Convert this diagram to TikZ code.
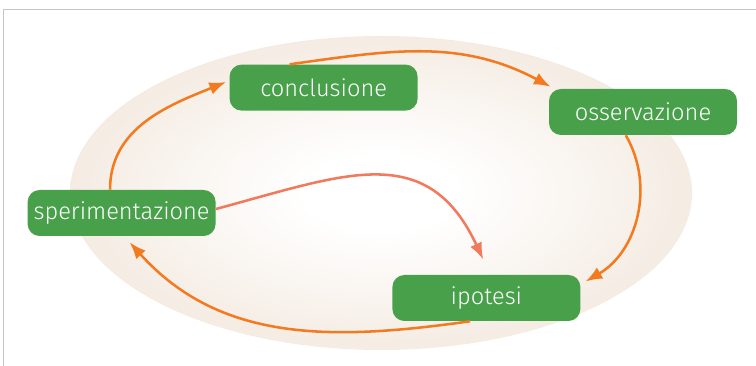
\documentclass[tikz,border=0pt]{standalone}
\usepackage{fontspec}
\newfontfamily\boxfont{Fira Sans Light}
\usepackage{tikz}
\usetikzlibrary{calc,arrows.meta}
\definecolor{boxgreen}{HTML}{48A14A}
\definecolor{arrorange}{HTML}{F47A20}
\definecolor{arrsalmon}{HTML}{F27A5C}
\definecolor{eggshell}{HTML}{EFE2D4}
\definecolor{framegray}{HTML}{C6C6C6}
\pgfdeclareradialshading{egg}{\pgfpoint{0bp}{0bp}}{color(0bp)=(white); color(6bp)=(white);
    color(22bp)=(eggshell!55!white); color(34bp)=(eggshell); color(50bp)=(eggshell)}
\tikzstyle{every picture}=[>={Latex[length=0.42cm,width=0.32cm]}]
\tikzstyle{step box}=[fill=boxgreen, rounded corners=0.3cm, minimum width=4.7cm,
    minimum height=1.15cm, text=white, font=\boxfont\fontsize{16.8}{20}\selectfont]
\tikzstyle{cycle arrow}=[->, draw=arrorange, line width=1.8pt]

\begin{document}
\begin{tikzpicture}
\useasboundingbox (0,0) rectangle (18.9,9.15);
% frame, only top and left show
\draw[framegray, line width=1.2pt] (0.09,0) -- (0.09,8.91) -- (18.9,8.91);
% Now the shaded egg behind everything
\shade[shading=egg] (9.525,4.325) ellipse (7.775cm and 3.925cm);

 \node[step box] (conc) at (8.09,6.96) {conclusione};
 \node[step box] (oss) at (16.075,6.35) {osservazione};
 \node[step box] (sper) at (3.04,3.825) {sperimentazione};
 \node[step box] (ipo) at (12.16,1.70) {ipotesi};

 \draw[cycle arrow] ([xshift=-0.29cm]sper.north) to[out=90,in=202] ([xshift=-0.08cm,yshift=0.14cm]conc.west);
 \draw[cycle arrow] ([xshift=-0.85cm]conc.north) to[out=8,in=152] ([xshift=0.05cm,yshift=0.05cm]oss.north west);
 \draw[cycle arrow] ([xshift=-0.43cm]oss.south) to[out=-60,in=30] ([xshift=0.12cm,yshift=-0.17cm]ipo.north east);
 \draw[cycle arrow] ([xshift=-0.41cm]ipo.south) to[out=188,in=-48] ([xshift=0.2cm,yshift=-0.15cm]sper.south);
 % the odd one across the middle
 \draw[cycle arrow, draw=arrsalmon] ([yshift=0.1cm]sper.east) to[out=15,in=115,looseness=1.25] ([xshift=-0.08cm,yshift=0.38cm]ipo.north);
\end{tikzpicture}
\end{document}
